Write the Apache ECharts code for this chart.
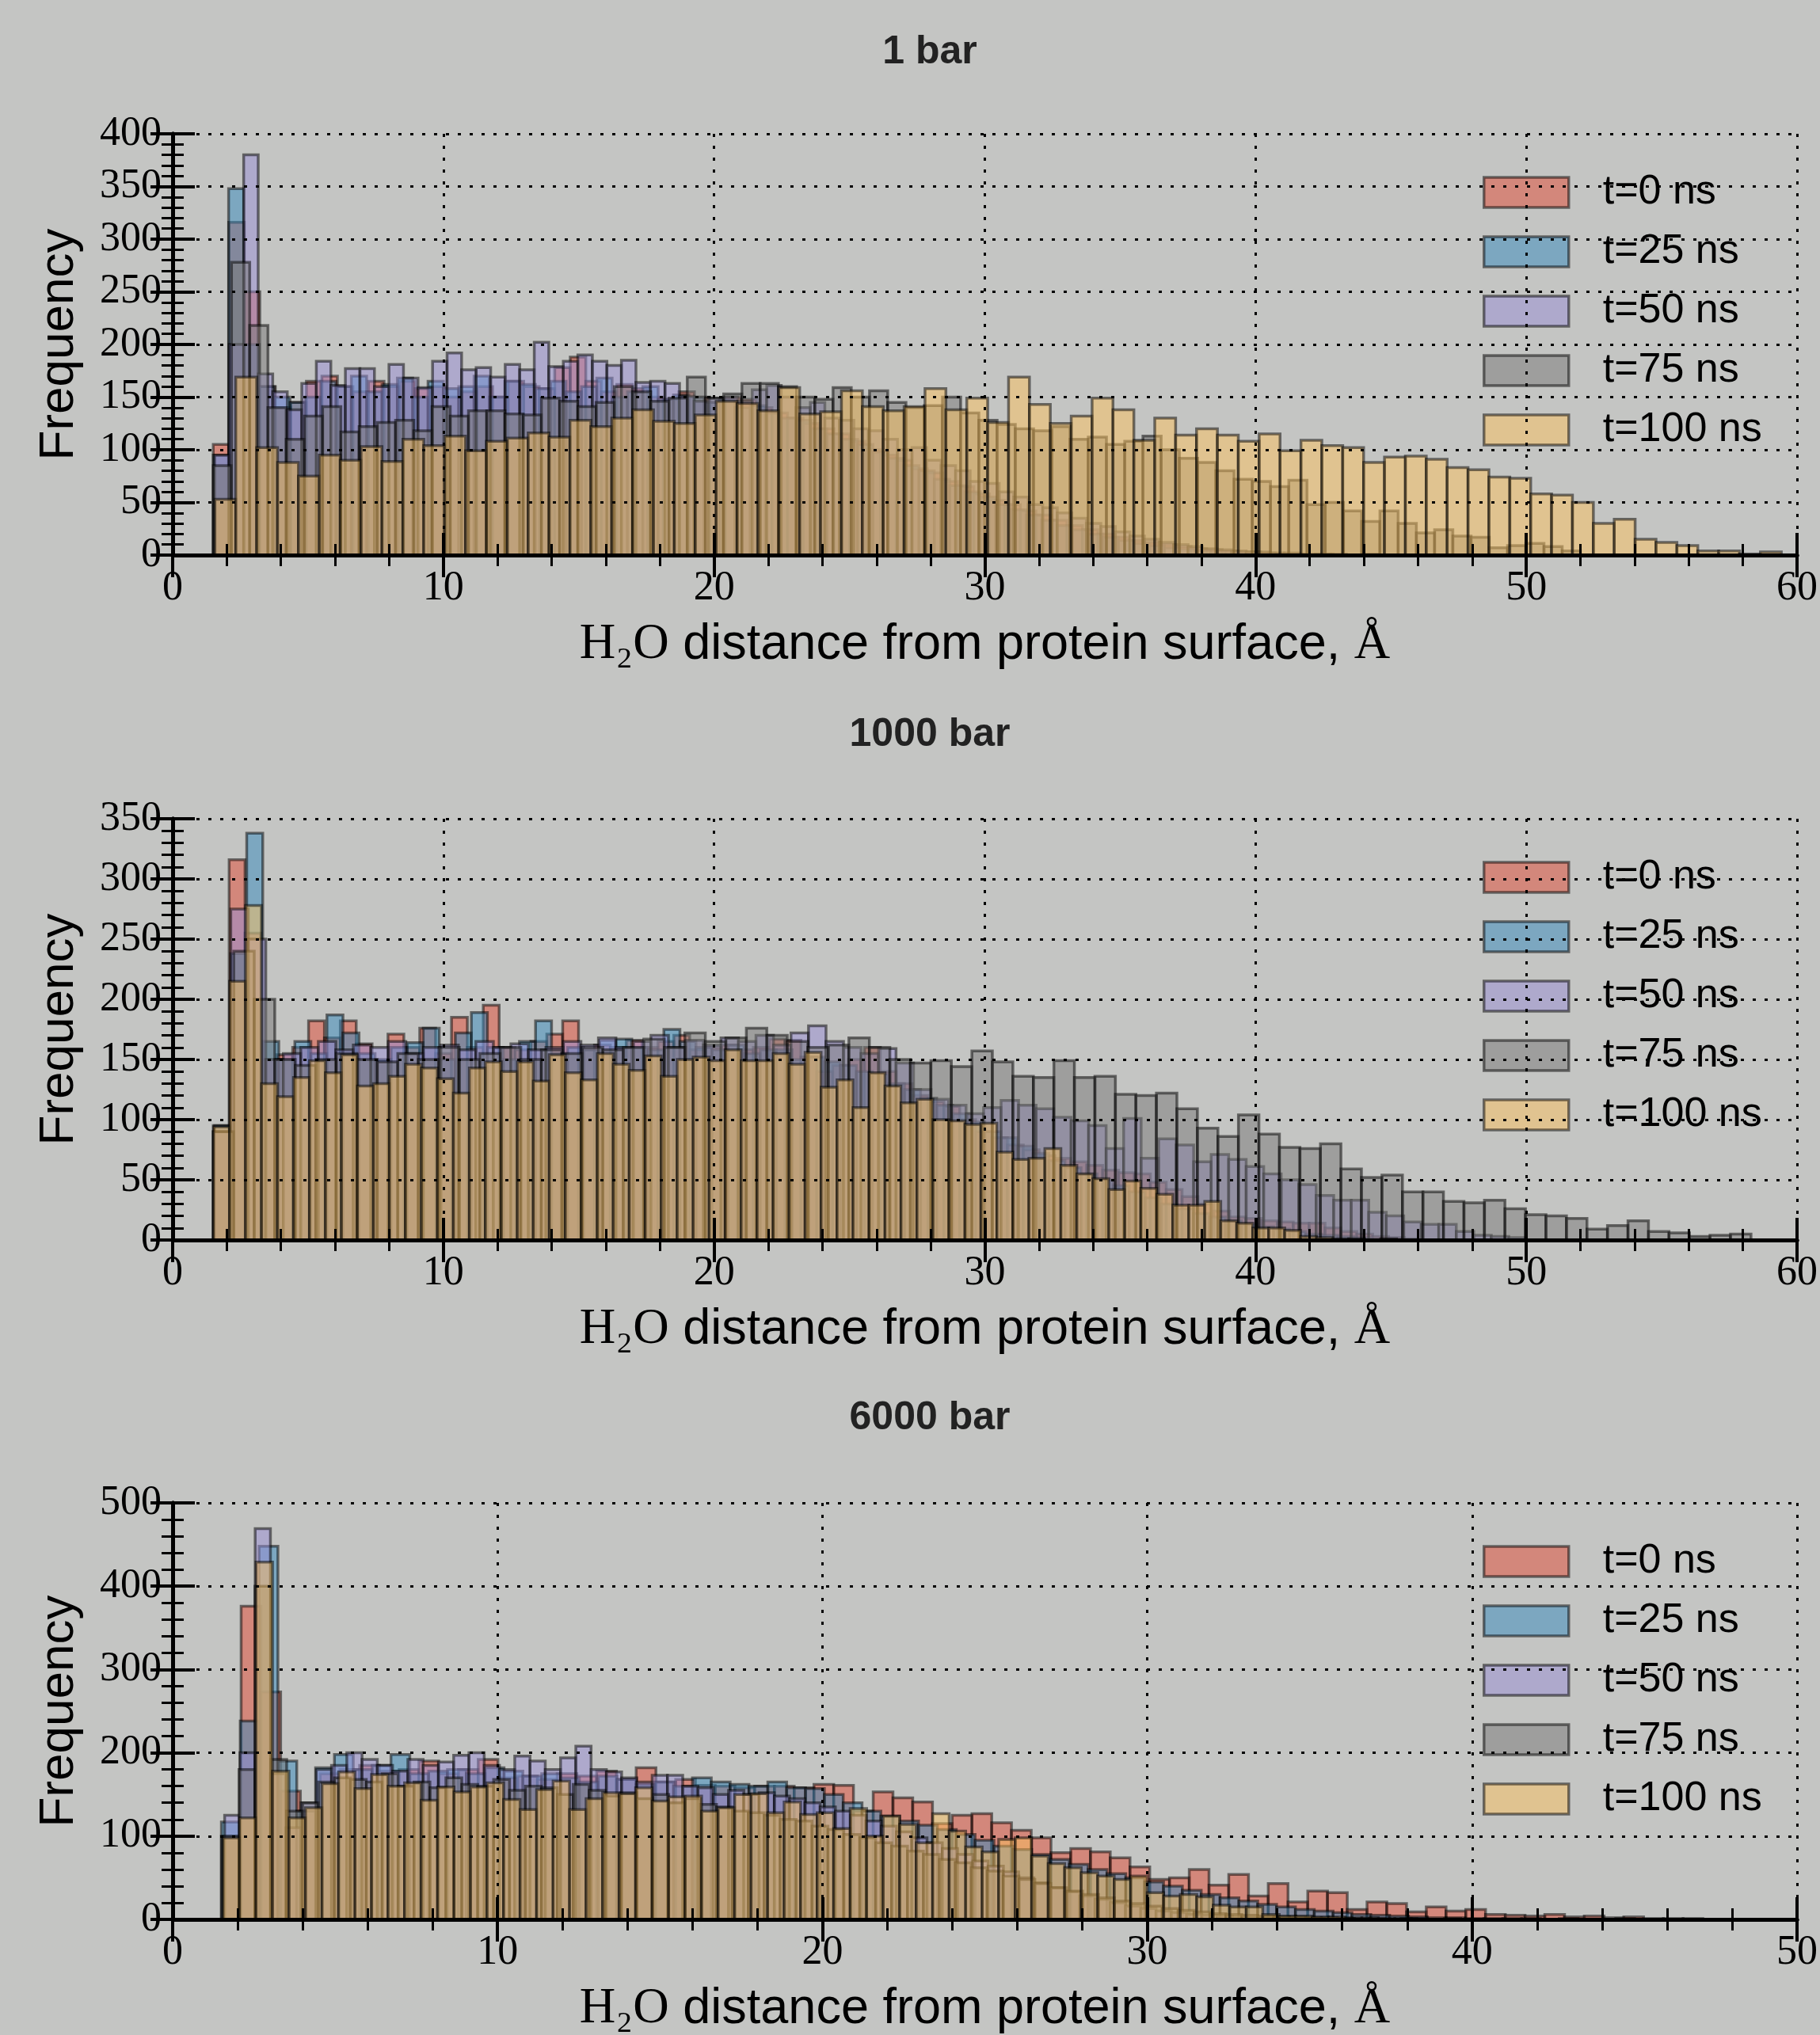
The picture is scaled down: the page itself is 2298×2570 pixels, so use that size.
<!DOCTYPE html>
<html><head><meta charset="utf-8">
<script src="https://cdn.jsdelivr.net/npm/echarts@6/dist/echarts.min.js"></script>
<style>html,body{margin:0;padding:0;background:#c4c5c3;}#c{width:2298px;height:2570px;}</style>
</head><body><div id="c"></div>
<script>
// ---------- DATA ----------
const seriesNames = ['t=0 ns','t=25 ns','t=50 ns','t=75 ns','t=100 ns'];
const panelTitles = ['1 bar','1000 bar','6000 bar'];
const xMaxes = [60, 60, 50];
const yMaxes = [400, 350, 500];
const yIntervals = [50, 50, 100];
const xInterval = 10;

// Panel 1 (1 bar): [lo, hi] ranges and bin counts
const p1_t0_range = [1.5, 44.5];
const p1_t0 = [105,316,250,160,140,145,165,170,160,155,165,160,165,158,160,150,155,160,150,165,160,158,178,188,165,155,162,158,150,148,155,150,145,150,148,140,135,130,125,120,115,108,100,95,90,82,78,70,65,58,52,48,42,38,33,28,24,20,17,14,12,10,8,6,5,4,3,3,2,2,1,1,1,0,1];
const p1_t25_range = [1.5, 44.0];
const p1_t25 = [95,348,200,160,150,145,150,165,160,170,155,162,168,150,165,158,160,170,150,165,162,158,165,155,160,168,150,155,160,148,152,150,145,148,140,142,135,130,128,120,115,110,105,98,92,85,80,72,66,60,55,48,43,38,33,28,24,20,17,14,11,9,7,6,4,3,3,2,1,1,1,0,1,0,0];
const p1_t50_range = [1.55, 41.8];
const p1_t50 = [95,200,380,172,155,138,163,184,161,177,177,160,181,168,159,184,192,176,178,169,181,176,202,179,184,190,184,180,185,164,165,163,151,146,149,150,146,157,161,150,140,145,130,128,120,118,110,100,102,90,85,80,70,68,60,55,48,45,40,35,30,27,22,18,15,12,10,8,6,5,4,3,2,1,1];
const p1_t75_range = [1.5, 52.0];
const p1_t75 = [85,278,218,140,110,132,141,117,122,126,128,118,141,132,137,137,134,133,149,146,141,145,160,155,146,149,169,149,153,163,163,160,150,148,159,150,156,145,140,142,150,135,128,124,120,118,122,110,112,105,108,113,100,92,88,80,72,70,65,71,48,50,42,32,42,30,21,24,18,17,7,9,11,8,4];
const p1_t100_range = [1.56, 59.42];
const p1_t100 = [53,169,102,88,75,95,90,103,89,110,104,113,99,108,111,116,112,128,122,130,138,127,125,133,146,144,137,159,134,136,156,141,137,141,158,138,149,126,169,143,125,132,149,138,109,130,114,120,114,108,115,99,109,104,102,88,93,94,91,83,81,74,73,58,57,50,30,34,15,12,9,4,4,1,3];

// Panel 2 (1000 bar)
const p2_t0_range = [1.5, 45.5];
const p2_t0 = [95,316,255,150,154,160,182,168,182,163,149,171,160,176,155,185,160,195,160,158,165,171,182,158,162,160,166,160,165,170,158,160,162,158,160,167,166,152,140,145,150,160,140,130,120,115,111,100,90,85,79,75,70,68,65,62,58,56,55,48,42,36,30,24,19,18,16,15,14,14,10,7,5,3,2];
const p2_t25_range = [1.55, 46.0];
const p2_t25 = [95,238,338,165,150,165,155,187,172,155,150,160,164,176,150,172,189,160,150,165,182,155,160,158,166,167,160,158,175,165,160,158,162,155,158,158,150,152,148,145,140,138,130,125,118,112,105,98,90,85,78,72,66,60,55,50,45,40,35,30,26,22,19,16,13,11,9,7,5,4,3,2,1,1,1];
const p2_t50_range = [1.5, 50.0];
const p2_t50 = [90,275,250,150,155,160,165,158,162,160,165,155,160,162,158,165,160,163,158,160,165,162,168,160,165,170,160,166,162,168,165,170,162,172,178,165,160,155,159,147,125,117,112,105,110,116,112,109,102,99,95,76,101,68,84,79,65,71,67,61,55,50,46,37,33,33,23,20,15,13,13,7,4,3,2];
const p2_t75_range = [1.5, 58.3];
const p2_t75 = [90,240,200,150,145,150,155,150,148,155,150,160,150,155,160,150,158,155,160,158,160,167,160,172,165,168,176,170,165,160,162,168,160,150,147,149,144,157,148,136,135,149,135,136,121,120,122,109,93,86,104,88,77,76,80,59,52,54,40,40,32,31,33,26,21,20,18,9,12,16,7,6,3,4,5];
const p2_t100_range = [1.51, 45.8];
const p2_t100 = [94,215,278,130,119,135,149,139,154,128,130,136,146,143,134,122,143,148,140,148,132,154,139,133,155,146,141,153,136,150,152,149,158,149,149,155,146,156,127,133,110,139,128,114,117,100,99,96,97,73,67,68,76,62,55,51,42,49,43,38,29,29,32,16,14,10,10,8,3,2,1,1,0,1,0];

// Panel 3 (6000 bar)
const p3_t0_range = [1.5, 47.1];
const p3_t0 = [100,376,273,154,130,175,180,185,178,180,190,175,180,192,170,172,168,175,172,178,168,182,165,168,161,160,158,160,160,158,162,161,130,153,146,141,115,125,127,116,107,98,80,85,81,74,63,48,50,60,41,54,28,43,21,34,32,12,21,19,9,15,10,12,6,5,4,6,3,4,2,3,1,1,1];
const p3_t25_range = [1.5, 45.0];
const p3_t25 = [117,238,448,190,130,182,198,180,185,198,175,178,180,175,182,178,172,175,170,165,172,168,162,165,160,170,165,162,160,165,158,157,150,140,130,124,118,113,108,102,95,88,84,78,72,66,60,55,50,45,40,35,30,26,22,18,15,12,10,8,6,5,4,3,2,2,1,1,1,1,0,1,0,0,1];
const p3_t50_range = [1.6, 36.85];
const p3_t50 = [125,200,469,175,110,140,180,185,200,192,185,178,192,185,189,197,200,185,180,196,190,180,194,208,180,177,170,165,173,173,160,158,150,155,150,152,148,145,140,135,130,125,118,112,105,98,92,85,78,70,64,57,50,44,38,33,28,24,20,16,13,10,8,6,5,4,3,2,2,1,1,1,0,1,0];
const p3_t75_range = [1.55, 38.3];
const p3_t75 = [100,180,400,192,130,140,165,170,168,165,175,160,165,158,170,162,160,168,155,160,158,150,162,155,148,152,145,150,140,145,138,135,130,128,125,120,118,112,108,102,98,92,88,82,78,72,68,62,58,52,48,43,38,34,30,26,22,19,16,13,11,9,7,6,5,4,3,3,2,2,1,1,1,0,1];
const p3_t100_range = [1.55, 39.65];
const p3_t100 = [98,122,429,178,122,134,163,177,157,174,160,164,143,159,153,159,164,144,132,156,166,132,145,152,151,158,142,147,148,130,134,150,151,128,141,126,128,109,133,100,124,114,92,127,106,87,81,96,98,76,67,62,56,52,48,52,32,28,30,27,17,15,15,6,4,4,3,3,2,2,1,1,1,0,1];

const panels = [
  [[p1_t0_range,p1_t0],[p1_t25_range,p1_t25],[p1_t50_range,p1_t50],[p1_t75_range,p1_t75],[p1_t100_range,p1_t100]],
  [[p2_t0_range,p2_t0],[p2_t25_range,p2_t25],[p2_t50_range,p2_t50],[p2_t75_range,p2_t75],[p2_t100_range,p2_t100]],
  [[p3_t0_range,p3_t0],[p3_t25_range,p3_t25],[p3_t50_range,p3_t50],[p3_t75_range,p3_t75],[p3_t100_range,p3_t100]]
];

// ---------- STYLE / LAYOUT ----------
const colors = ['rgba(226,74,51,0.5)','rgba(52,138,189,0.5)','rgba(152,142,213,0.5)','rgba(119,119,119,0.5)','rgba(251,193,94,0.5)'];
const edge = 'rgba(0,0,0,0.5)';
const gridTops = [169, 1034, 1898];
const gridH = 532;
const gridLeft = 218, gridW = 2057;
const titleY = [66, 928, 1791];
const legendTops = [212, 1077, 1941];
const serif = 'Liberation Serif';
const sans = 'Liberation Sans';
const gridLine = {color: '#000', width: 3, type: [4, 11]};

const grid = gridTops.map(t => ({left: gridLeft, top: t, width: gridW, height: gridH, containLabel: false}));

function majorAxis(extra) {
  return Object.assign({
    type: 'value', z: 10,
    axisLine: {show: true, lineStyle: {color: '#000', width: 5}},
    axisTick: {show: true, inside: true, length: 28, lineStyle: {color: '#000', width: 4}},
    minorTick: {show: false},
    splitLine: {show: false},
    axisLabel: {show: false}
  }, extra);
}
function minorAxis(extra) {
  return Object.assign({
    type: 'value', z: 10,
    axisLine: {show: false},
    axisTick: {show: true, inside: true, length: 14, lineStyle: {color: '#000', width: 3}},
    minorTick: {show: false},
    splitLine: {show: false},
    axisLabel: {show: false}
  }, extra);
}

const xAxis = [], yAxis = [];
for (let i = 0; i < 3; i++) {
  const xm = xMaxes[i], ym = yMaxes[i], yi = yIntervals[i];
  xAxis.push(majorAxis({
    gridIndex: i, position: 'bottom', min: 0, max: xm, interval: xInterval,
    splitLine: {show: true, lineStyle: gridLine},
    axisLabel: {show: true, color: '#000', fontFamily: serif, fontSize: 52, margin: 16},
    name: '{s|H\u2082O} distance from protein surface, {s|\u00C5}',
    nameLocation: 'middle', nameGap: 82,
    nameTextStyle: {color: '#000', fontFamily: sans, fontSize: 63,
      rich: {s: {fontFamily: serif + ', DejaVu Serif', fontSize: 63, color: '#000'}}}
  }));
  xAxis.push(majorAxis({gridIndex: i, position: 'top', min: 0, max: xm, interval: xInterval}));
  xAxis.push(minorAxis({gridIndex: i, position: 'bottom', min: 0, max: xm, interval: xInterval / 5}));
  xAxis.push(minorAxis({gridIndex: i, position: 'top', min: 0, max: xm, interval: xInterval / 5}));

  yAxis.push(majorAxis({
    gridIndex: i, position: 'left', min: 0, max: ym, interval: yi,
    splitLine: {show: true, lineStyle: gridLine},
    axisLabel: {show: true, color: '#000', fontFamily: serif, fontSize: 52, margin: 14},
    name: 'Frequency', nameLocation: 'middle', nameGap: 112,
    nameTextStyle: {color: '#000', fontFamily: sans, fontSize: 62}
  }));
  yAxis.push(majorAxis({gridIndex: i, position: 'right', min: 0, max: ym, interval: yi}));
  yAxis.push(minorAxis({gridIndex: i, position: 'left', min: 0, max: ym, interval: yi / 5}));
  yAxis.push(minorAxis({gridIndex: i, position: 'right', min: 0, max: ym, interval: yi / 5}));
}

const series = [];
panels.forEach((pan, pi) => {
  pan.forEach((pair, si) => {
    const lo = pair[0][0], hi = pair[0][1], counts = pair[1];
    const w = (hi - lo) / counts.length;
    const col = colors[si];
    series.push({
      type: 'custom', name: seriesNames[si],
      xAxisIndex: pi * 4, yAxisIndex: pi * 4,
      z: 2, animation: false,
      encode: {x: [0, 1], y: 2},
      data: counts.map((c, k) => [lo + k * w, lo + (k + 1) * w, c]),
      renderItem: function (params, api) {
        const a = api.coord([api.value(0), api.value(2)]);
        const b = api.coord([api.value(1), 0]);
        return {type: 'rect', shape: {x: a[0], y: a[1], width: b[0] - a[0], height: b[1] - a[1]},
          style: {fill: col, stroke: edge, lineWidth: 3.5}};
      }
    });
  });
});

const legend = legendTops.map(t => ({
  orient: 'vertical', left: 1867, top: t, itemWidth: 107, itemHeight: 38, itemGap: 23,
  selectedMode: false,
  textStyle: {color: '#000', fontFamily: sans, fontSize: 52, padding: [0, 0, 0, 38]},
  data: seriesNames.map((n, j) => ({name: n, icon: 'rect',
    itemStyle: {color: colors[j], borderColor: edge, borderWidth: 3.5}}))
}));

const graphic = panelTitles.map((t, i) => ({
  type: 'text', x: 1174, y: titleY[i],
  style: {text: t, fontFamily: sans, fontWeight: 'bold', fontSize: 50, fill: '#222',
    textAlign: 'center', textVerticalAlign: 'middle'}
}));

const chart = echarts.init(document.getElementById('c'));
chart.setOption({
  backgroundColor: '#c4c5c3',
  animation: false,
  grid, xAxis, yAxis, series, legend, graphic
});
</script>
</body></html>
